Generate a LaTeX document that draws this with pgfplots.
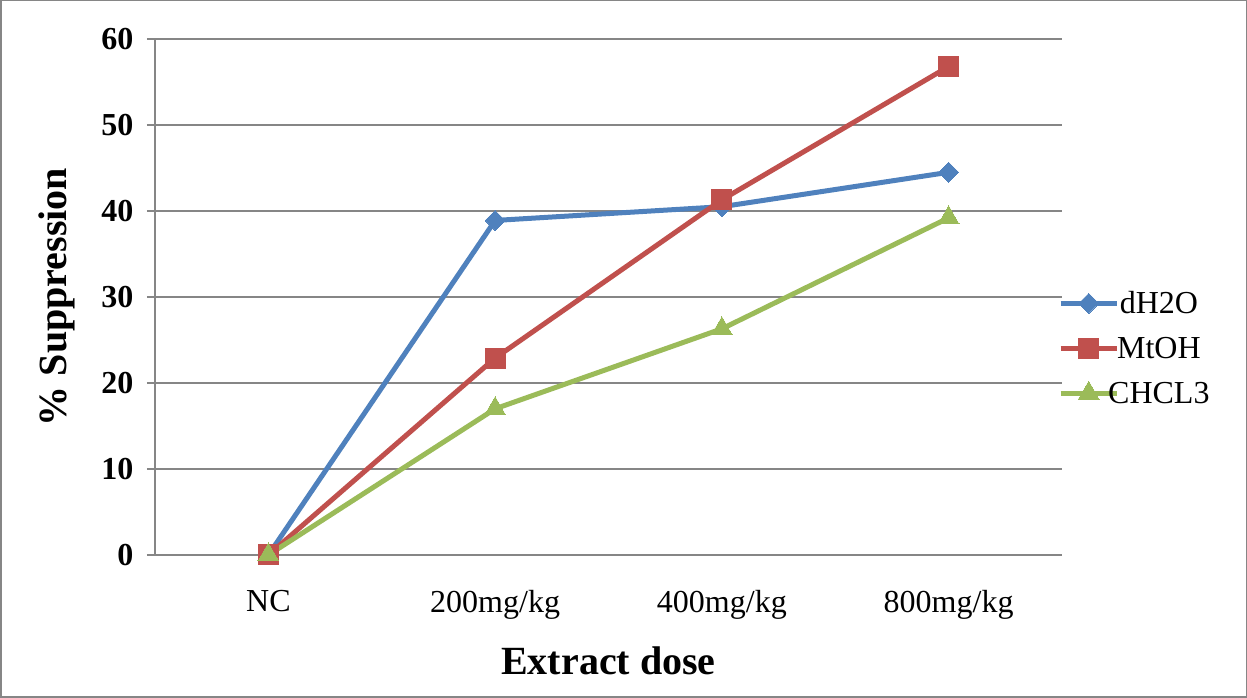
\documentclass[border=0pt]{standalone}
\usepackage{fontspec}
\setmainfont{Liberation Serif}
\usepackage{pgfplots}
\pgfplotsset{compat=1.18}
\definecolor{cblue}{HTML}{4F81BD}
\definecolor{cred}{HTML}{C0504D}
\definecolor{cgreen}{HTML}{9BBB59}
\definecolor{cgrid}{HTML}{868686}
\begin{document}
\begin{tikzpicture}[x=1pt,y=1pt]
\draw[cgrid, line width=1.5pt] (0.75,0.75) rectangle (1246.25,697.25);
\begin{axis}[
  at={(155pt,143pt)}, anchor=south west,
  scale only axis, width=907pt, height=516pt,
  xmin=-0.5, xmax=3.5, ymin=0, ymax=60,
  xtick={0,1,2,3}, xticklabels={NC,200mg/kg,400mg/kg,800mg/kg},
  ytick={0,10,20,30,40,50,60},
  /pgf/number format/assume math mode=true,
  yticklabel style={font=\fontsize{32}{32}\selectfont\bfseries, xshift=-10pt},
  xticklabel style={font=\fontsize{32}{32}\selectfont, yshift=-32pt},
  xlabel={Extract dose}, ylabel={\% Suppression},
  xlabel style={font=\fontsize{40}{40}\selectfont\bfseries, yshift=-20pt},
  ylabel style={font=\fontsize{40}{40}\selectfont\bfseries, yshift=20pt},
  axis x line*=bottom, axis y line*=left,
  axis line style={cgrid, line width=1.5pt, -},
  ymajorgrids, grid style={cgrid, line width=1.5pt},
  major tick length=8pt,
  tick style={cgrid, line width=1.5pt},
  xtick style={draw=none},
  ytick align=outside,
  legend style={at={(1,0.401)}, anchor=west, xshift=-4pt, draw=none, fill=none,
    inner sep=0pt,
    font=\fontsize{32}{32}\selectfont, row sep=20pt,
    nodes={inner sep=1pt},
    /tikz/every odd column/.append style={column sep=-12pt},
    /tikz/every even column/.append style={column sep=0pt}},
  legend image code/.code={
    \draw[#1, mark repeat=2, mark phase=2] plot coordinates {(0pt,0pt)(28pt,0pt)(56pt,0pt)};},
  clip=false,
]
\addplot[cblue, line width=5pt, mark=diamond*, mark size=10pt, mark options={solid, line width=0pt, xscale=1.33}]
  coordinates {(0,0) (1,38.9) (2,40.5) (3,44.5)};
\addplot[cred, line width=5pt, mark=square*, mark size=10pt, mark options={solid, line width=0pt}]
  coordinates {(0,0) (1,22.9) (2,41.3) (3,56.8)};
\addplot[cgreen, line width=5pt, mark=triangle*, mark size=12pt, mark options={solid, line width=0pt}]
  coordinates {(0,0) (1,17.0) (2,26.3) (3,39.2)};
\legend{dH2O, MtOH, CHCL3}
\end{axis}
\end{tikzpicture}
\end{document}
